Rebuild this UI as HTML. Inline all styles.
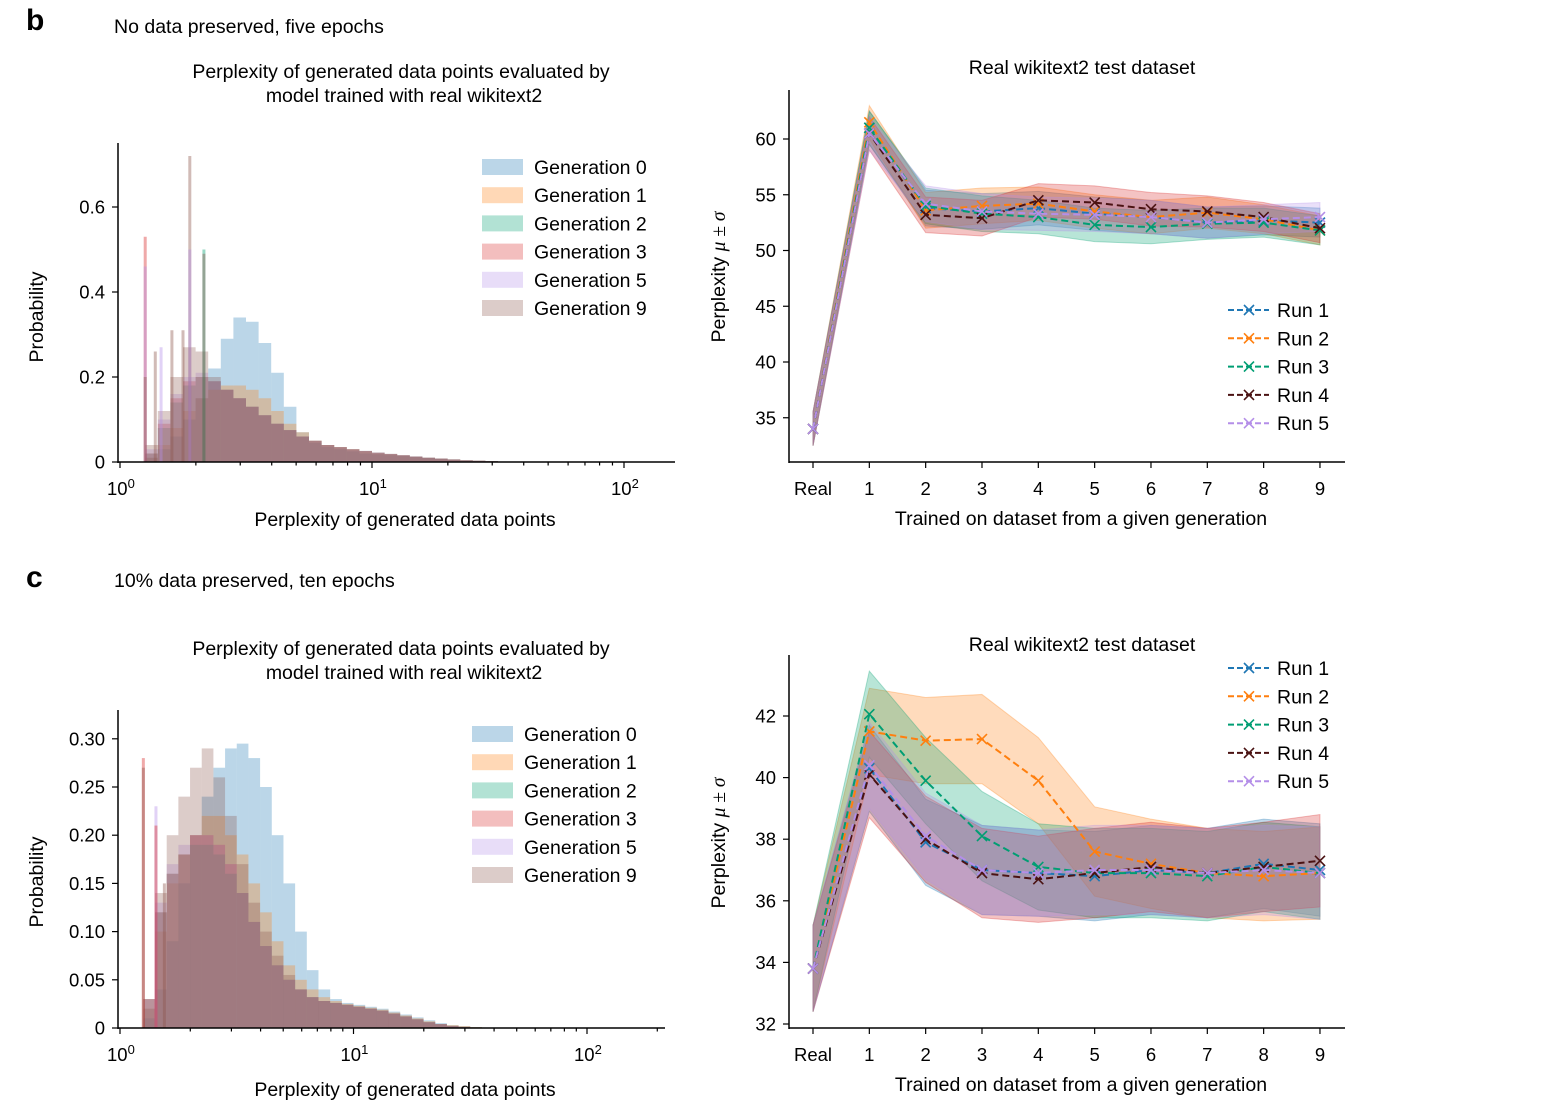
<!DOCTYPE html>
<html><head><meta charset="utf-8"><style>
body{margin:0;background:#fff;}
svg{display:block;font-family:"Liberation Sans",Arial,sans-serif;}
</style></head><body>
<svg id="s" width="1557" height="1111" xmlns="http://www.w3.org/2000/svg">
<text x="26" y="30" font-size="30" font-weight="bold">b</text>
<text x="114" y="33" font-size="19.5">No data preserved, five epochs</text>
<text x="26" y="587" font-size="30" font-weight="bold">c</text>
<text x="114" y="587" font-size="19.5">10% data preserved, ten epochs</text>
</svg>
<script>
const NS="http://www.w3.org/2000/svg";
const svg=document.getElementById('s');
// ---------- DATA ----------
const genNames=["Generation 0","Generation 1","Generation 2","Generation 3","Generation 5","Generation 9"];
const genColors=["#1f77b4","#ff7f0e","#00a070","#d62728","#b48ee8","#8c564b"];
const binStart=0.05, binStep=0.05;
const bGen0=[0,0.01,0.03,0.06,0.10,0.15,0.22,0.29,0.34,0.33,0.28,0.21,0.13,0.07,0.045,0.035,0.03,0.025,0.02,0.018,0.016,0.014,0.012,0.01,0.008,0.006,0.004,0.003,0.002,0.001,0,0,0];
const bGen1=[0,0.01,0.04,0.08,0.12,0.15,0.17,0.18,0.18,0.17,0.15,0.12,0.09,0.07,0.05,0.04,0.035,0.03,0.025,0.02,0.018,0.015,0.012,0.01,0.008,0.006,0.004,0.003,0.002,0.001,0,0,0];
const bGen2=[0,0.02,0.08,0.14,0.18,0.2,0.19,0.17,0.15,0.13,0.11,0.09,0.075,0.06,0.05,0.04,0.035,0.03,0.026,0.022,0.019,0.016,0.013,0.01,0.008,0.006,0.004,0.003,0.002,0.001,0,0,0];
const bGen3=[0,0.02,0.09,0.15,0.19,0.2,0.19,0.17,0.15,0.13,0.11,0.09,0.075,0.06,0.05,0.04,0.035,0.03,0.026,0.022,0.019,0.016,0.013,0.01,0.008,0.006,0.004,0.003,0.002,0.001,0,0,0];
const bGen5=[0,0.03,0.1,0.16,0.2,0.21,0.19,0.17,0.15,0.13,0.11,0.09,0.075,0.06,0.05,0.04,0.035,0.03,0.026,0.022,0.019,0.016,0.013,0.01,0.008,0.006,0.004,0.003,0.002,0.001,0,0,0];
const bGen9=[0,0.04,0.12,0.2,0.27,0.26,0.2,0.17,0.15,0.13,0.11,0.09,0.075,0.06,0.05,0.04,0.035,0.03,0.026,0.022,0.019,0.016,0.013,0.01,0.008,0.006,0.004,0.003,0.002,0.001,0,0,0];
const bSpikeGen=[3,4,5,5,4,2,5,4,5,5,5];
const bSpikeLog=[0.10,0.10,0.10,0.277,0.277,0.333,0.333,0.163,0.206,0.25,0.14];
const bSpikeVal=[0.53,0.46,0.2,0.72,0.5,0.5,0.49,0.27,0.31,0.31,0.26];
const cGen0=[0,0.01,0.04,0.09,0.15,0.2,0.24,0.27,0.29,0.295,0.28,0.25,0.2,0.15,0.1,0.06,0.04,0.03,0.026,0.024,0.022,0.02,0.017,0.014,0.011,0.008,0.005,0.003,0.002,0.001,0,0,0];
const cGen1=[0,0.03,0.1,0.15,0.18,0.2,0.22,0.22,0.2,0.18,0.15,0.12,0.09,0.065,0.05,0.04,0.032,0.028,0.025,0.023,0.021,0.019,0.016,0.013,0.01,0.007,0.004,0.003,0.002,0.001,0,0,0];
const cGen2=[0,0.03,0.12,0.16,0.18,0.19,0.19,0.18,0.16,0.14,0.11,0.085,0.065,0.05,0.04,0.032,0.028,0.026,0.024,0.022,0.02,0.018,0.015,0.012,0.009,0.006,0.004,0.002,0.001,0,0,0,0];
const cGen3=[0,0.03,0.12,0.16,0.18,0.2,0.2,0.19,0.17,0.14,0.11,0.085,0.065,0.05,0.04,0.032,0.028,0.026,0.024,0.022,0.02,0.018,0.015,0.012,0.009,0.006,0.004,0.002,0.001,0,0,0,0];
const cGen5=[0,0.03,0.13,0.17,0.19,0.2,0.2,0.19,0.17,0.14,0.11,0.085,0.065,0.05,0.04,0.032,0.028,0.026,0.024,0.022,0.02,0.018,0.015,0.012,0.009,0.006,0.004,0.002,0.001,0,0,0,0];
const cGen9=[0,0.02,0.14,0.2,0.24,0.27,0.29,0.26,0.22,0.17,0.13,0.1,0.075,0.055,0.04,0.032,0.028,0.026,0.024,0.022,0.02,0.018,0.015,0.012,0.009,0.006,0.004,0.002,0.001,0,0,0,0];
const cSpikeGen=[3,5,4,3,5];
const cSpikeLog=[0.10,0.10,0.154,0.154,0.19];
const cSpikeVal=[0.28,0.27,0.23,0.21,0.15];
const categories=["Real","1","2","3","4","5","6","7","8","9"];
const runNames=["Run 1","Run 2","Run 3","Run 4","Run 5"];
const runColors=["#1f77b4","#ff7f0e","#009e73","#4a1212","#b48ee8"];
const runFill=["#1f77b4","#ff7f0e","#00a070","#d62728","#b48ee8"];
const bRun1=[34,61,53.8,53.5,53.8,53.3,53.0,52.5,52.7,52.5];
const bRun2=[34,61.5,53.6,54.0,54.2,53.5,53.0,53.4,52.8,51.8];
const bRun3=[34,61,54.0,53.3,53.0,52.3,52.1,52.4,52.5,51.8];
const bRun4=[34,60.5,53.2,52.9,54.5,54.3,53.7,53.5,53.0,52.0];
const bRun5=[34,60.5,54.2,53.5,53.3,53.2,53.0,52.5,52.8,53.0];
const bStd=[1.5,1.5,1.6,1.6,1.5,1.5,1.5,1.4,1.3,1.3];
const cRun1=[33.8,40.3,37.9,37.0,36.9,36.8,37.0,36.9,37.2,37.0];
const cRun2=[33.8,41.5,41.2,41.25,39.9,37.6,37.2,36.9,36.8,36.9];
const cRun3=[33.8,42.06,39.9,38.1,37.1,36.9,36.9,36.8,37.1,36.9];
const cRun4=[33.8,40.1,38.0,36.9,36.7,36.9,37.1,36.9,37.1,37.3];
const cRun5=[33.8,40.4,38.1,37.0,36.9,37.0,37.0,36.9,37.0,36.9];
const cStd=[1.4,1.4,1.4,1.45,1.4,1.45,1.45,1.45,1.45,1.5];
// ---------- helpers ----------
function el(tag,attrs,parent){const e=document.createElementNS(NS,tag);for(const k in attrs)e.setAttribute(k,attrs[k]);(parent||svg).appendChild(e);return e;}
function txt(x,y,s,size,anchor,parent){const t=el('text',{x:x,y:y,'font-size':size,'text-anchor':anchor||'start'},parent);t.textContent=s;return t;}
const FS=19.5, TS=18.5;

function histogram(cfg){
  const g=el('g',{});
  
  
  const X=l=>cfg.x0+l*cfg.dec, Y=v=>cfg.yb-v*cfg.ppu;
  cfg.gens.forEach((arr,gi)=>{
    arr.forEach((v,i)=>{
      if(v<=0)return;
      const l=binStart+i*binStep;
      const r=el('rect',{x:X(l),y:Y(v),width:X(l+binStep)-X(l),height:cfg.yb-Y(v),fill:genColors[gi],'fill-opacity':0.3},g);
      
      
    });
  });
  cfg.spG.forEach((gi,k)=>{
    const r=el('rect',{x:X(cfg.spL[k])-1.5,y:Y(cfg.spV[k]),width:3,height:cfg.yb-Y(cfg.spV[k]),fill:genColors[gi],'fill-opacity':0.4},g);
    
    
  });
  el('line',{x1:118,y1:cfg.top,x2:118,y2:cfg.yb+1,stroke:'#000','stroke-width':1.5},g);
  el('line',{x1:118,y1:cfg.yb,x2:cfg.xEnd,y2:cfg.yb,stroke:'#000','stroke-width':1.5},g);
  cfg.yt.forEach((v,i)=>{const y=Y(v);el('line',{x1:112,y1:y,x2:118,y2:y,stroke:'#000','stroke-width':1.2},g);
    const t=txt(105,y+6.5,cfg.ytl[i],TS,'end',g);});
  for(let d=0;d<3;d++){for(let m=1;m<10;m++){const l=d+Math.log10(m);const x=X(l);if(x>cfg.xEnd)break;
    el('line',{x1:x,y1:cfg.yb,x2:x,y2:cfg.yb+(m==1?6:3.5),stroke:'#000','stroke-width':1.2},g);}
    const x=X(d);const t=txt(x-13,cfg.yb+33,'10',TS,'start',g);
    const ts=el('tspan',{dy:-7,'font-size':13},t);ts.textContent=String(d);}
  const xl=txt(405,cfg.xlabY,'Perplexity of generated data points',FS,'middle',g);
  
  const yl=txt(0,0,'Probability',FS,'middle',g);yl.setAttribute('transform',`translate(43,${cfg.ylabY}) rotate(-90)`);
  
  const t1=txt(401,cfg.titleY,'Perplexity of generated data points evaluated by',FS,'middle',g);
  
  txt(404,cfg.titleY+24,'model trained with real wikitext2',FS,'middle',g);
  genNames.forEach((n,i)=>{const y=cfg.legY+i*28.2;
    const lg=el('g',{},g);
    el('rect',{x:cfg.legX,y:y-8,width:41,height:16,fill:genColors[i],'fill-opacity':0.3},lg);
    txt(cfg.legX+52,y+7,n,FS,'start',lg);});
}
histogram({name:'histogram-b',x0:120,dec:252,yb:462,ppu:425,top:143,xEnd:675,yt:[0,0.2,0.4,0.6],ytl:['0','0.2','0.4','0.6'],
  gens:[bGen0,bGen1,bGen2,bGen3,bGen5,bGen9],spG:bSpikeGen,spL:bSpikeLog,spV:bSpikeVal,xlabY:526,ylabY:317,titleY:78,legX:482,legY:167});
histogram({name:'histogram-c',x0:120,dec:233.5,yb:1028,ppu:964,top:710,xEnd:665,yt:[0,0.05,0.1,0.15,0.2,0.25,0.3],ytl:['0','0.05','0.10','0.15','0.20','0.25','0.30'],
  gens:[cGen0,cGen1,cGen2,cGen3,cGen5,cGen9],spG:cSpikeGen,spL:cSpikeLog,spV:cSpikeVal,xlabY:1096,ylabY:882,titleY:655,legX:472,legY:734});

function lineChart(cfg){
  const g=el('g',{});
  
  
  const X=i=>813+i*56.33, Y=v=>cfg.y0-(v-cfg.v0)*cfg.ppu;
  cfg.runs.forEach((arr,r)=>{
    let pts=arr.map((v,i)=>X(i)+','+Y(v+cfg.std[i]));
    pts=pts.concat(arr.map((v,i)=>X(i)+','+Y(v-cfg.std[i])).reverse());
    const p=el('polygon',{points:pts.join(' '),fill:runFill[r],'fill-opacity':0.28,stroke:runFill[r],'stroke-opacity':0.3},g);
    
  });
  cfg.runs.forEach((arr,r)=>{
    const l=el('polyline',{points:arr.map((v,i)=>X(i)+','+Y(v)).join(' '),fill:'none',stroke:runColors[r],'stroke-width':2,'stroke-dasharray':'7,4'},g);
    
    arr.forEach((v,i)=>{const x=X(i),y=Y(v);
      const m=el('path',{d:`M${x-5},${y-5}L${x+5},${y+5}M${x-5},${y+5}L${x+5},${y-5}`,stroke:runColors[r],'stroke-width':1.6},g);
      });
  });
  el('line',{x1:789,y1:cfg.top,x2:789,y2:cfg.bot+1,stroke:'#000','stroke-width':1.5},g);
  el('line',{x1:789,y1:cfg.bot,x2:1345,y2:cfg.bot,stroke:'#000','stroke-width':1.5},g);
  cfg.yt.forEach(v=>{const y=Y(v);el('line',{x1:783,y1:y,x2:789,y2:y,stroke:'#000','stroke-width':1.2},g);
    const t=txt(776,y+6.5,String(v),TS,'end',g);});
  categories.forEach((c,i)=>{const x=X(i);el('line',{x1:x,y1:cfg.bot,x2:x,y2:cfg.bot+6,stroke:'#000','stroke-width':1.2},g);
    const t=txt(x,cfg.bot+33,c,TS,'middle',g);});
  const xl=txt(1081,cfg.bot+63,'Trained on dataset from a given generation',FS,'middle',g);
  
  const yl=txt(0,0,'Perplexity ',FS,'middle',g);yl.setAttribute('transform',`translate(725,${cfg.ylabY}) rotate(-90)`);
  const ts=el('tspan',{'font-family':'Liberation Serif','font-style':'italic'},yl);ts.textContent='μ ± σ';
  
  const tt=txt(1082,cfg.titleY,'Real wikitext2 test dataset',FS,'middle',g);
  
  runNames.forEach((n,r)=>{const y=cfg.legY+r*28.3;
    const lg=el('g',{},g);
    el('line',{x1:1228,y1:y,x2:1269,y2:y,stroke:runColors[r],'stroke-width':2,'stroke-dasharray':'6,3'},lg);
    el('path',{d:`M1244,${y-5}L1254,${y+5}M1244,${y+5}L1254,${y-5}`,stroke:runColors[r],'stroke-width':1.6},lg);
    txt(1277,y+7,n,FS,'start',lg);});
}
lineChart({name:'line-chart-b',runs:[bRun1,bRun2,bRun3,bRun4,bRun5],std:bStd,y0:139,v0:60,ppu:11.15,top:90,bot:462,yt:[35,40,45,50,55,60],ylabY:277,legY:310,titleY:74});
lineChart({name:'line-chart-c',runs:[cRun1,cRun2,cRun3,cRun4,cRun5],std:cStd,y0:1024,v0:32,ppu:30.8,top:655,bot:1028,yt:[32,34,36,38,40,42],ylabY:843,legY:668,titleY:651});
</script>
</body></html>
